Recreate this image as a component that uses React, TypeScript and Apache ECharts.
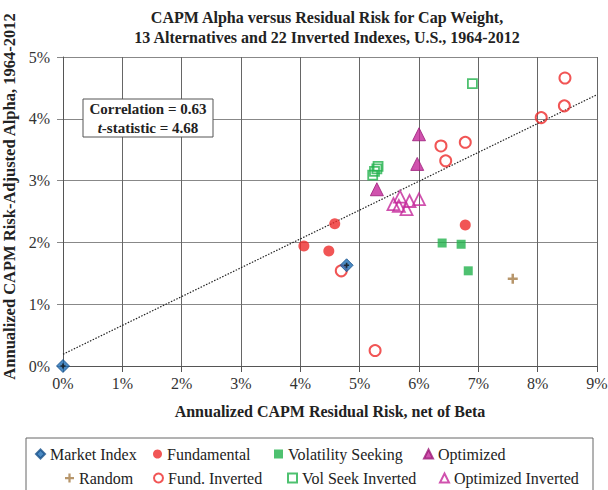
import React, { useEffect, useRef } from "react";
import * as echarts from "echarts";

const FONT = "Liberation Serif, Times New Roman, serif";

const xTicks = [0, 1, 2, 3, 4, 5, 6, 7, 8, 9];
const yTicks = [0, 1, 2, 3, 4, 5];

const marketIndex = [[0, 0], [4.78, 1.63]];
const fundamental = [[4.06, 1.94], [4.48, 1.86], [4.58, 2.3], [6.78, 2.28]];
const volSeeking = [[6.39, 1.99], [6.71, 1.97], [6.83, 1.54]];
const optimized = [[5.29, 2.86], [5.97, 3.27], [6.0, 3.75]];
const randomIdx = [[7.58, 1.41]];
const fundInverted = [[4.69, 1.54], [5.26, 0.25], [6.37, 3.56], [6.45, 3.32], [6.78, 3.62], [8.06, 4.02], [8.45, 4.21], [8.46, 4.66]];
const volSeekInverted = [[6.9, 4.57], [5.31, 3.23], [5.29, 3.19], [5.25, 3.15], [5.22, 3.09]];
const optimizedInverted = [[5.57, 2.62], [5.66, 2.59], [5.68, 2.74], [5.79, 2.54], [5.84, 2.67], [6.0, 2.7]];
const trendLine = [[0, 0.19], [9, 4.39]];

const legendRows = [
  { name: "Market Index", left: 35, top: 446 },
  { name: "Fundamental", left: 153, top: 446 },
  { name: "Volatility Seeking", left: 274, top: 446 },
  { name: "Optimized", left: 423, top: 446 },
  { name: "Random", left: 65, top: 470 },
  { name: "Fund. Inverted", left: 153, top: 470 },
  { name: "Vol Seek Inverted", left: 287, top: 470 },
  { name: "Optimized Inverted", left: 439, top: 470 },
];

const RED = "#ee2a2a";
const GREEN = "#22b24c";
const MAGENTA = "#c4279a";
const BLUE = "#1e6db4";
const BROWN = "#a57c46";

export default function App() {
  const ref = useRef<HTMLDivElement>(null);
  useEffect(() => {
    document.body.style.margin = "0";
    if (!ref.current) return;
    const chart = echarts.init(ref.current, null, { renderer: "svg" });
    const option: any = {
      animation: false,
      backgroundColor: "#fff",
      textStyle: { fontFamily: FONT },
      title: {
        text: "CAPM Alpha versus Residual Risk for Cap Weight,\n13 Alternatives and 22 Inverted Indexes, U.S., 1964-2012",
        left: 327,
        top: 7,
        padding: 0,
        textAlign: "center",
        textStyle: { fontFamily: FONT, fontSize: 16, fontWeight: "bold", color: "#222", lineHeight: 20 },
      },
      grid: { left: 63, right: 11, top: 57, bottom: 124, containLabel: false, outerBoundsMode: "none" },
      legend: legendRows.map((r) => ({
        data: [r.name],
        left: r.left,
        top: r.top,
        padding: 0,
        itemWidth: 9,
        itemHeight: 9,
        textStyle: { fontFamily: FONT, fontSize: 16, color: "#222" },
      })),
      xAxis: {
        type: "value",
        min: 0,
        max: 9,
        interval: 1,
        name: "Annualized CAPM Residual Risk, net of Beta",
        nameLocation: "middle",
        nameGap: 37,
        nameTextStyle: { fontFamily: FONT, fontSize: 16, fontWeight: "bold", color: "#222" },
        axisLine: { show: true, lineStyle: { color: "#555", width: 1 } },
        axisTick: { show: true, length: 6, lineStyle: { color: "#555" } },
        axisLabel: {
          fontFamily: FONT, fontSize: 16, color: "#333", margin: 9,
          formatter: (v: number) => (xTicks.includes(v) ? v + "%" : ""),
        },
        splitLine: { show: true, lineStyle: { color: "#666", width: 1 } },
      },
      yAxis: {
        type: "value",
        min: 0,
        max: 5,
        interval: 1,
        name: "Annualized CAPM Risk-Adjusted Alpha, 1964-2012",
        nameLocation: "middle",
        nameGap: 43,
        nameRotate: 90,
        nameTextStyle: { fontFamily: FONT, fontSize: 16.5, fontWeight: "bold", color: "#222", padding: [0, 0, 0, 30] },
        axisLine: { show: true, lineStyle: { color: "#555", width: 1 } },
        axisTick: { show: true, length: 6, lineStyle: { color: "#888" } },
        axisLabel: {
          fontFamily: FONT, fontSize: 16, color: "#333", margin: 13,
          formatter: (v: number) => (yTicks.includes(v) ? v + "%" : ""),
        },
        splitLine: { show: true, lineStyle: { color: "#888", width: 1 } },
      },
      series: [
        {
          name: "Trend",
          type: "line",
          data: trendLine,
          symbol: "none",
          silent: true,
          lineStyle: { color: "#222", width: 1.2, type: [1.5, 1.5] },
          z: 1,
        },
        {
          name: "Market Index",
          type: "scatter",
          data: marketIndex,
          symbol: "diamond",
          symbolSize: 13,
          itemStyle: { color: BLUE, borderColor: "#16508a", borderWidth: 1 },
          z: 5,
        },
        {
          name: "Market Index",
          type: "scatter",
          data: marketIndex,
          symbol: "path://M2,0h2v2h2v2h-2v2h-2v-2h-2v-2h2z",
          symbolSize: 5,
          itemStyle: { color: "#111" },
          z: 6,
        },
        {
          name: "Fundamental",
          type: "scatter",
          data: fundamental,
          symbol: "circle",
          symbolSize: 11,
          itemStyle: { color: RED },
        },
        {
          name: "Volatility Seeking",
          type: "scatter",
          data: volSeeking,
          symbol: "rect",
          symbolSize: 9,
          itemStyle: { color: GREEN },
        },
        {
          name: "Optimized",
          type: "scatter",
          data: optimized,
          symbol: "triangle",
          symbolSize: 13,
          itemStyle: { color: MAGENTA, borderColor: "#9c1a78", borderWidth: 1 },
        },
        {
          name: "Random",
          type: "scatter",
          data: randomIdx,
          symbol: "path://M3,0h2v3h3v2h-3v3h-2v-3h-3v-2h3z",
          symbolSize: 10,
          itemStyle: { color: BROWN },
        },
        {
          name: "Fund. Inverted",
          type: "scatter",
          data: fundInverted,
          symbol: "circle",
          symbolSize: 11,
          itemStyle: { color: "rgba(255,255,255,0)", borderColor: RED, borderWidth: 2 },
        },
        {
          name: "Vol Seek Inverted",
          type: "scatter",
          data: volSeekInverted,
          symbol: "rect",
          symbolSize: 9,
          itemStyle: { color: "rgba(255,255,255,0)", borderColor: GREEN, borderWidth: 1.8 },
        },
        {
          name: "Optimized Inverted",
          type: "scatter",
          data: optimizedInverted,
          symbol: "triangle",
          symbolSize: 12,
          itemStyle: { color: "rgba(255,255,255,0)", borderColor: MAGENTA, borderWidth: 1.8 },
        },
      ],
      graphic: [
        {
          type: "rect",
          shape: { x: 26, y: 438, width: 567, height: 70 },
          style: { fill: "none", stroke: "#666", lineWidth: 1 },
          silent: true,
          z: 0,
        },
        {
          type: "rect",
          shape: { x: 83, y: 99, width: 130, height: 38 },
          style: { fill: "#fff", stroke: "#555", lineWidth: 1 },
          z: 100,
        },
        {
          type: "text",
          x: 148,
          y: 118,
          z: 101,
          style: {
            text: "{b|Correlation = 0.63}\n{i|t}{b|-statistic = 4.68}",
            align: "center",
            verticalAlign: "middle",
            rich: {
              b: { fontFamily: FONT, fontSize: 15, fontWeight: "bold", fill: "#222", lineHeight: 19 },
              i: { fontFamily: FONT, fontSize: 15, fontWeight: "bold", fontStyle: "italic", fill: "#222", lineHeight: 19 },
            },
          },
        },
      ],
    };
    chart.setOption(option);
    return () => chart.dispose();
  }, []);
  return <div ref={ref} style={{ width: 608, height: 490 }} />;
}
